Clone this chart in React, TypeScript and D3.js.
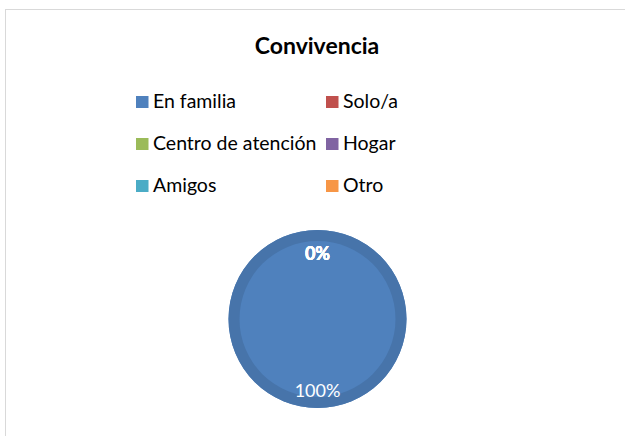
import React from "react";
import * as d3 from "d3";

const categories = ["En familia", "Solo/a", "Centro de atención", "Hogar", "Amigos", "Otro"];
const values = [100, 0, 0, 0, 0, 0];
const colors = ["#4F81BD", "#C0504D", "#9BBB59", "#8064A2", "#4BACC6", "#F79646"];

const W = 625;
const H = 436;
const font = "Lato, 'Open Sans', sans-serif";

export default function App() {
  const cx = 317.5;
  const cy = 319;
  const r = 89;
  const total = d3.sum(values);

  const pie = d3.pie<number>().sort(null).value((d) => d);
  const arcs = pie(values);
  const arcGen = d3.arc<d3.PieArcDatum<number>>().innerRadius(0).outerRadius(r);
  const ringGen = d3.arc<d3.PieArcDatum<number>>().innerRadius(r - 11).outerRadius(r);
  const labelArc = d3.arc<d3.PieArcDatum<number>>().innerRadius(r * 0.77).outerRadius(r * 0.77);

  // legend grid: 2 columns, 3 rows
  const colX = d3.scaleOrdinal<number, number>().domain([0, 1]).range([136, 326]);
  const rowY = d3.scaleLinear().domain([0, 2]).range([96, 180]);

  return (
    <svg width={W} height={H} style={{ position: "absolute", left: 0, top: 0 }}>
      <rect x={0} y={0} width={W} height={H} fill="#fff" />
      <rect x={5.5} y={9.5} width={W + 10} height={H + 10} fill="#fff" stroke="#d9d9d9" strokeWidth={1} />
      <text x={317} y={54} textAnchor="middle" fontFamily={font} fontWeight={700} fontSize={23} fill="#000">
        Convivencia
      </text>
      {categories.map((c, i) => {
        const x = colX(i % 2);
        const y = rowY(Math.floor(i / 2));
        return (
          <g key={c}>
            <rect x={x} y={y} width={12.5} height={12} fill={colors[i]} />
            <text x={x + 17} y={y + 12} fontFamily={font} fontSize={19.5} fill="#000">
              {c}
            </text>
          </g>
        );
      })}
      <g transform={`translate(${cx},${cy})`}>
        {arcs.map((a, i) => (
          <g key={i}>
            <path d={arcGen(a) || ""} fill={colors[i]} />
            <path d={ringGen(a) || ""} fill={d3.color(colors[i])!.darker(0.3).toString()} />
          </g>
        ))}
        {arcs.map((a, i) => {
          const [lx, ly] = labelArc.centroid(a);
          const pct = Math.round((a.data / total) * 100);
          return (
            <text
              key={"l" + i}
              x={lx}
              y={ly}
              dy="0.52em"
              textAnchor="middle"
              fontFamily={font}
              fontSize={18}
              fontWeight={pct === 0 ? 700 : 400}
              fill="#fff"
            >
              {pct}%
            </text>
          );
        })}
      </g>
    </svg>
  );
}
